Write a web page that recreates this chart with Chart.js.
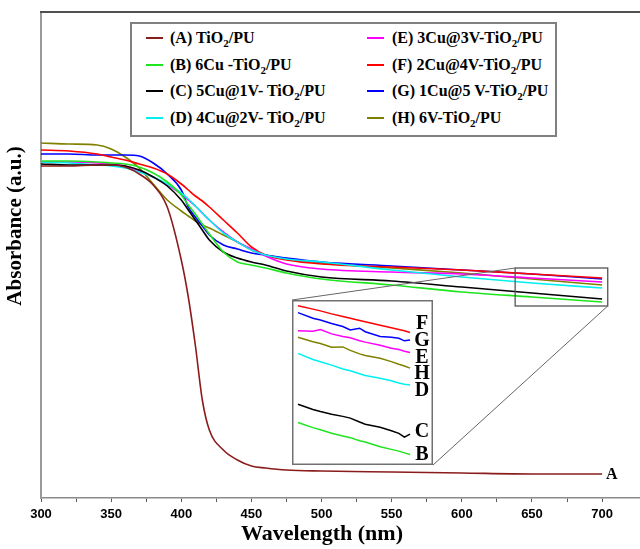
<!DOCTYPE html>
<html><head><meta charset="utf-8">
<script src="https://cdn.jsdelivr.net/npm/chart.js@4.4.1/dist/chart.umd.min.js"></script>
<style>
body{margin:0;background:#fff;}
#wrap{position:relative;width:640px;height:549px;overflow:hidden;background:#fff;}
#main{position:absolute;left:0;top:0;}
#legend{position:absolute;left:130px;top:22px;width:423px;height:111px;border:2px solid #808080;background:#fff;font:bold 16px "Liberation Serif","Times New Roman",serif;color:#000;}
.item{position:absolute;height:20px;line-height:20px;white-space:nowrap;}
.sw{position:absolute;left:0;top:9px;width:17px;height:2px;}
.tx{position:absolute;top:0;}
sub{font-size:11px;vertical-align:-4px;line-height:0;}
#inset{position:absolute;left:292px;top:300px;}
</style></head><body>
<div id="wrap">
<canvas id="main" width="640" height="549"></canvas>
<div id="legend"></div>
<canvas id="inset" width="141" height="165"></canvas>
</div>
<script>
// ---------- main spectrum data (wavelength in nm, absorbance in a.u.) ----------
const wavelengths = [300,320,340,350,360,370,380,390,400,405,410,415,420,430,440,450,460,475,500,550,600,650,700];
const absA = [3.32,3.32,3.33,3.33,3.31,3.24,3.13,2.91,2.38,2.01,1.53,0.98,0.68,0.48,0.38,0.32,0.30,0.28,0.27,0.26,0.25,0.24,0.24];
const absB = [3.37,3.37,3.36,3.35,3.34,3.31,3.25,3.16,3.03,2.93,2.84,2.74,2.64,2.46,2.36,2.33,2.30,2.25,2.19,2.13,2.06,2.01,1.96];
const absC = [3.34,3.33,3.33,3.33,3.32,3.28,3.21,3.12,2.98,2.88,2.78,2.68,2.58,2.46,2.40,2.36,2.33,2.27,2.21,2.17,2.11,2.05,1.99];
const absD = [3.36,3.35,3.33,3.32,3.30,3.26,3.21,3.14,3.05,2.99,2.92,2.85,2.78,2.65,2.56,2.48,2.43,2.39,2.36,2.28,2.21,2.15,2.10];
const absE = [3.36,3.36,3.35,3.34,3.32,3.27,3.21,3.13,3.04,2.98,2.92,2.85,2.78,2.66,2.56,2.49,2.42,2.34,2.29,2.26,2.24,2.20,2.16];
const absF = [3.48,3.47,3.44,3.41,3.38,3.34,3.30,3.24,3.14,3.08,3.02,2.97,2.91,2.78,2.65,2.51,2.43,2.38,2.34,2.31,2.28,2.24,2.20];
const absG = [3.44,3.44,3.43,3.43,3.43,3.42,3.35,3.24,3.08,2.91,2.81,2.72,2.63,2.53,2.49,2.45,2.43,2.40,2.36,2.32,2.28,2.24,2.19];
const absH = [3.55,3.54,3.53,3.49,3.41,3.30,3.14,2.98,2.87,2.82,2.77,2.73,2.70,2.63,2.56,2.48,2.43,2.39,2.35,2.30,2.25,2.19,2.13];

// ---------- inset (magnified 640-700 nm region) ----------
const insetWl = [640,648,652,658,664,668,673,676,684,690,694,697,700];
const insetF = [2.287,2.279,2.275,2.268,2.262,2.258,2.253,2.250,2.242,2.236,2.232,2.229,2.225];
const insetG = [2.271,2.258,2.254,2.246,2.239,2.231,2.235,2.227,2.216,2.214,2.212,2.206,2.208];
const insetE = [2.229,2.228,2.232,2.222,2.216,2.213,2.206,2.203,2.196,2.189,2.186,2.182,2.179];
const insetH = [2.214,2.204,2.200,2.191,2.192,2.184,2.176,2.172,2.166,2.158,2.152,2.148,2.143];
const insetD = [2.177,2.163,2.158,2.150,2.141,2.137,2.130,2.126,2.120,2.114,2.109,2.106,2.104];
const insetC = [2.060,2.048,2.043,2.037,2.032,2.028,2.019,2.014,2.007,1.999,1.993,1.984,1.991];
const insetB = [2.018,2.006,2.001,1.993,1.987,1.983,1.976,1.973,1.962,1.956,1.952,1.948,1.944];
const insetLetters = ['F','G','E','H','D','C','B'];
const zoomWl = [638,704];
const zoomAbs = [1.92,2.30];

// ---------- series names / colours ----------
const seriesKeys = ['A','B','C','D','E','F','G','H'];
const seriesNames = ['(A) TiO2/PU','(B) 6Cu -TiO2/PU','(C) 5Cu@1V- TiO2/PU','(D) 4Cu@2V- TiO2/PU',
                     '(E) 3Cu@3V-TiO2/PU','(F) 2Cu@4V-TiO2/PU','(G) 1Cu@5 V-TiO2/PU','(H) 6V-TiO2/PU'];
const seriesColors = ['#8B1C1C','#1EE61E','#000000','#00F0F0','#FF00FF','#FF0000','#0000FF','#808000'];
const mainValues = [absA,absB,absC,absD,absE,absF,absG,absH];
const insetValues = {F:insetF,G:insetG,E:insetE,H:insetH,D:insetD,C:insetC,B:insetB};

const serif = '"Liberation Serif","Times New Roman",serif';
const sans = '"Liberation Sans",Arial,sans-serif';

// ---------- HTML legend ----------
const legendEl = document.getElementById('legend');
seriesNames.forEach((name,i)=>{
  const col = i < 4 ? 0 : 1, row = i % 4;
  const it = document.createElement('div');
  it.className = 'item';
  it.style.left = (col ? 235 : 14) + 'px';
  it.style.top = (4 + row*26.5) + 'px';
  const sw = document.createElement('div');
  sw.className = 'sw'; sw.style.background = seriesColors[i];
  const tx = document.createElement('div');
  tx.className = 'tx'; tx.style.left = (col ? 25 : 24) + 'px';
  tx.innerHTML = name.replace('TiO2','TiO<sub>2</sub>');
  it.appendChild(sw); it.appendChild(tx); legendEl.appendChild(it);
});

const insetCanvas = document.getElementById('inset');

// ---------- main chart ----------
const mainDecor = {
  id:'mainDecor',
  afterDraw(chart){
    const {ctx, chartArea:ca, scales:{x,y}} = chart;
    ctx.save();
    // top frame line
    ctx.strokeStyle = '#505050'; ctx.lineWidth = 2;
    ctx.beginPath(); ctx.moveTo(ca.left-1, ca.top); ctx.lineTo(ca.right, ca.top); ctx.stroke();
    // zoom box
    const bx0 = x.getPixelForValue(zoomWl[0]), bx1 = x.getPixelForValue(zoomWl[1]);
    const by0 = y.getPixelForValue(zoomAbs[1]), by1 = y.getPixelForValue(zoomAbs[0]);
    ctx.strokeStyle = '#555'; ctx.lineWidth = 1.3;
    ctx.strokeRect(bx0, by0, bx1-bx0, by1-by0);
    // connectors to inset
    const il = insetCanvas.offsetLeft, it = insetCanvas.offsetTop;
    const ir = il + insetCanvas.width, ib = it + insetCanvas.height;
    ctx.strokeStyle = '#666'; ctx.lineWidth = 1;
    ctx.beginPath(); ctx.moveTo(bx0, by0); ctx.lineTo(il, it); ctx.stroke();
    ctx.beginPath(); ctx.moveTo(bx1, by1); ctx.lineTo(ir, ib); ctx.stroke();
    // label A at the end of curve A
    ctx.fillStyle = '#000';
    ctx.font = 'bold 16px ' + serif;
    ctx.textAlign = 'left'; ctx.textBaseline = 'middle';
    ctx.fillText('A', x.getPixelForValue(wavelengths[wavelengths.length-1]) + 4, y.getPixelForValue(absA[absA.length-1]) + 1);
    // axis titles
    ctx.textAlign = 'center';
    ctx.font = 'bold 22px ' + serif;
    ctx.fillText('Wavelength (nm)', 322, 534);
    ctx.translate(16, 226); ctx.rotate(-Math.PI/2);
    ctx.font = 'bold 21px ' + serif;
    ctx.fillText('Absorbance (a.u.)', 0, 0);
    ctx.restore();
  }
};

new Chart(document.getElementById('main'), {
  type:'line',
  data:{
    datasets: mainValues.map((vals,i)=>({
      label: seriesNames[i],
      data: wavelengths.map((w,k)=>({x:w, y:vals[k]})),
      borderColor: seriesColors[i],
      backgroundColor: seriesColors[i],
      borderWidth: 1.6,
      pointRadius: 0,
      fill:false,
      cubicInterpolationMode:'monotone'
    }))
  },
  options:{
    responsive:false, animation:false, events:[],
    layout:{padding:{top:12,left:0,right:0,bottom:0}},
    plugins:{legend:{display:false}, tooltip:{enabled:false}, title:{display:false}},
    scales:{
      x:{
        type:'linear', min:300, max:727,
        afterBuildTicks: s => { s.ticks = s.ticks.filter(t => t.value % 25 === 0 && t.value <= 725); },
        afterFit: s => { s.height = 51; },
        ticks:{stepSize:25, autoSkip:false, maxRotation:0, padding:5, color:'#000',
               font:{family:sans, size:13, weight:'bold'},
               callback: v => (v % 50 === 0 ? String(v) : '')},
        grid:{drawOnChartArea:false, drawTicks:true, tickLength:4, tickColor:'#555'},
        border:{color:'#8a8a8a', width:1.5},
        title:{display:false}
      },
      y:{
        min:0, max:4.86,
        afterFit: s => { s.width = 41; },
        ticks:{display:false},
        grid:{display:false},
        border:{color:'#9a9a9a', width:2},
        title:{display:false}
      }
    }
  },
  plugins:[mainDecor]
});

// ---------- inset chart ----------
const labelNudge = {F:-10, G:0, E:4, H:5, D:5, C:-3, B:-1};
const insetDecor = {
  id:'insetDecor',
  beforeDraw(chart){
    const {ctx} = chart;
    ctx.save(); ctx.fillStyle = '#fff'; ctx.fillRect(0,0,chart.width,chart.height); ctx.restore();
  },
  afterDraw(chart){
    const {ctx, scales:{x,y}} = chart;
    ctx.save();
    ctx.strokeStyle = '#707070'; ctx.lineWidth = 1.5;
    ctx.strokeRect(0.75,0.75,chart.width-1.5,chart.height-1.5);
    ctx.fillStyle = '#000';
    ctx.font = 'bold 20px ' + serif;
    ctx.textAlign = 'center'; ctx.textBaseline = 'middle';
    insetLetters.forEach(k=>{
      const v = insetValues[k];
      const py = y.getPixelForValue(v[v.length-1]) + labelNudge[k];
      ctx.fillText(k, 130, py + 1);
    });
    ctx.restore();
  }
};

new Chart(insetCanvas, {
  type:'line',
  data:{
    datasets: insetLetters.map(k=>({
      label:k,
      data: insetWl.map((w,i)=>({x:w, y:insetValues[k][i]})),
      borderColor: seriesColors[seriesKeys.indexOf(k)],
      borderWidth:1.5, pointRadius:0, fill:false, tension:0
    }))
  },
  options:{
    responsive:false, animation:false, events:[],
    layout:{padding:0},
    plugins:{legend:{display:false}, tooltip:{enabled:false}},
    scales:{
      x:{type:'linear', min:636.8, max:712.3, display:false},
      y:{min:1.92, max:2.30, display:false}
    }
  },
  plugins:[insetDecor]
});
</script>
</body></html>
